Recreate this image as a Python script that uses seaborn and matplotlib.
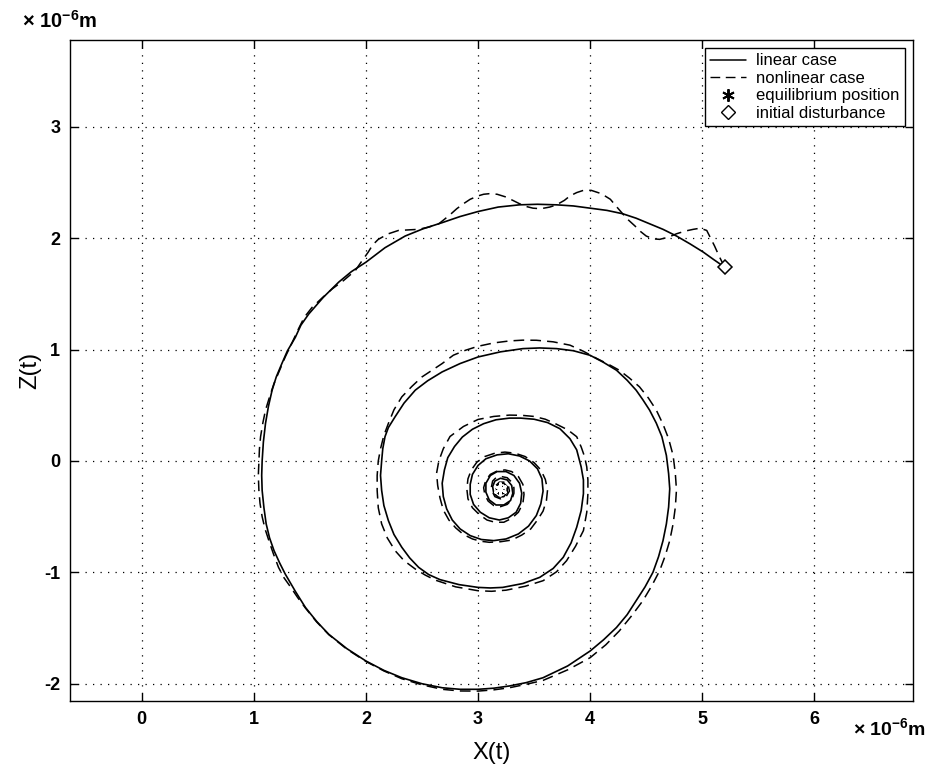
import matplotlib
matplotlib.use("Agg")
import matplotlib.pyplot as plt
from matplotlib.lines import Line2D
import seaborn as sns
import pandas as pd

# ---------------- data (units of 1e-6 m), (X, Z) points ----------------
lin_turn1 = [
    (5.20, 1.74), (5.10, 1.81), (5.01, 1.875), (4.89, 1.95), (4.77, 2.02), (4.65, 2.08),
    (4.53, 2.13), (4.41, 2.18), (4.29, 2.22), (4.15, 2.25), (4.00, 2.27), (3.85, 2.29),
    (3.70, 2.30), (3.53, 2.305), (3.37, 2.30), (3.18, 2.28), (3.00, 2.24), (2.84, 2.195),
    (2.68, 2.14), (2.51, 2.085), (2.35, 2.02), (2.17, 1.915), (2.00, 1.785), (1.87, 1.70),
    (1.757, 1.606), (1.62, 1.47), (1.49, 1.32), (1.42, 1.22), (1.37, 1.11), (1.30, 0.99),
    (1.25, 0.875), (1.20, 0.755), (1.163, 0.636), (1.13, 0.49), (1.104, 0.337), (1.085, 0.17),
    (1.074, 0.0), (1.07, -0.13), (1.074, -0.264), (1.09, -0.42), (1.11, -0.565), (1.14, -0.69),
    (1.18, -0.805), (1.23, -0.915), (1.28, -1.015), (1.37, -1.17), (1.46, -1.315), (1.56, -1.44),
    (1.668, -1.556), (1.83, -1.685), (2.00, -1.796), (2.16, -1.88), (2.32, -1.946), (2.50, -2.0),
    (2.68, -2.036), (2.84, -2.05), (3.00, -2.05), (3.14, -2.04), (3.28, -2.02), (3.43, -1.99),
    (3.58, -1.946), (3.80, -1.84), (4.00, -1.706), (4.12, -1.605), (4.235, -1.495), (4.33, -1.38),
    (4.41, -1.255), (4.49, -1.13), (4.56, -1.00), (4.61, -0.86), (4.65, -0.715), (4.68, -0.565),
    (4.70, -0.414),
]
lin_turn2 = [
    (4.71, -0.25), (4.70, -0.114), (4.68, 0.05), (4.64, 0.218), (4.59, 0.34), (4.53, 0.457),
    (4.47, 0.55), (4.41, 0.636), (4.33, 0.725), (4.235, 0.815), (4.12, 0.885), (4.00, 0.949),
    (3.85, 0.99), (3.70, 1.009), (3.55, 1.015), (3.40, 1.009), (3.20, 0.98), (3.00, 0.934),
    (2.84, 0.875), (2.68, 0.80), (2.55, 0.72), (2.44, 0.636), (2.34, 0.52), (2.26, 0.397),
    (2.20, 0.30), (2.17, 0.218), (2.15, 0.11), (2.14, 0.0), (2.13, -0.13), (2.14, -0.264),
    (2.16, -0.40), (2.20, -0.535), (2.25, -0.66), (2.32, -0.775), (2.39, -0.87), (2.47, -0.955),
    (2.56, -1.02), (2.66, -1.065), (2.83, -1.11), (3.00, -1.135), (3.11, -1.14), (3.22, -1.135),
    (3.40, -1.10), (3.55, -1.045), (3.67, -0.965), (3.76, -0.865), (3.83, -0.735), (3.88, -0.595),
    (3.92, -0.445), (3.94, -0.294), (3.94, -0.17), (3.92, -0.054),
]
lin_core = [
    (3.88, 0.10), (3.82, 0.20), (3.73, 0.29), (3.62, 0.345), (3.50, 0.375), (3.38, 0.385),
    (3.28, 0.385), (3.16, 0.37), (3.05, 0.335), (2.95, 0.285), (2.86, 0.215), (2.79, 0.13),
    (2.73, 0.03), (2.70, -0.08), (2.68, -0.20), (2.69, -0.32), (2.72, -0.43), (2.77, -0.53),
    (2.84, -0.61), (2.93, -0.67), (3.03, -0.705), (3.14, -0.715), (3.25, -0.70), (3.36, -0.655),
    (3.45, -0.585), (3.52, -0.49), (3.56, -0.385), (3.58, -0.27), (3.57, -0.16), (3.53, -0.07),
    (3.46, 0.0), (3.37, 0.045), (3.27, 0.065), (3.17, 0.055), (3.07, 0.02), (3.00, -0.04),
    (2.95, -0.12), (2.93, -0.21), (2.93, -0.30), (2.96, -0.39), (3.02, -0.46), (3.10, -0.51),
    (3.19, -0.53), (3.27, -0.51), (3.34, -0.46), (3.38, -0.38), (3.39, -0.29), (3.37, -0.20),
    (3.32, -0.13), (3.25, -0.095), (3.17, -0.095), (3.11, -0.13), (3.07, -0.20), (3.07, -0.28),
    (3.10, -0.35), (3.16, -0.395), (3.23, -0.395), (3.29, -0.355), (3.31, -0.29), (3.30, -0.22),
    (3.26, -0.17), (3.20, -0.155), (3.15, -0.18), (3.13, -0.23), (3.14, -0.29), (3.18, -0.325),
    (3.23, -0.32), (3.26, -0.28), (3.26, -0.23), (3.23, -0.20), (3.19, -0.20), (3.16, -0.23),
    (3.17, -0.28), (3.21, -0.29), (3.23, -0.26), (3.22, -0.23), (3.20, -0.235), (3.19, -0.25),
    (3.20, -0.26), (3.21, -0.25),
]

nl_turn1 = [
    (5.20, 1.74), (5.15, 1.84), (5.11, 1.93), (5.07, 2.01), (5.04, 2.07), (4.98, 2.09),
    (4.92, 2.08), (4.85, 2.065), (4.77, 2.04), (4.70, 2.01), (4.62, 1.99), (4.56, 1.995),
    (4.50, 2.02), (4.45, 2.06), (4.40, 2.11), (4.34, 2.165), (4.29, 2.22), (4.23, 2.29),
    (4.18, 2.35), (4.10, 2.40), (4.01, 2.43), (3.94, 2.43), (3.88, 2.41), (3.82, 2.38),
    (3.77, 2.34), (3.70, 2.30), (3.64, 2.28), (3.56, 2.265), (3.49, 2.27), (3.43, 2.285),
    (3.37, 2.31), (3.31, 2.34), (3.25, 2.37), (3.17, 2.395), (3.10, 2.40), (3.05, 2.395),
    (3.00, 2.38), (2.93, 2.35), (2.87, 2.31), (2.81, 2.265), (2.76, 2.22), (2.70, 2.17),
    (2.65, 2.13), (2.56, 2.10), (2.47, 2.08), (2.38, 2.075), (2.29, 2.07), (2.20, 2.04),
    (2.11, 1.99), (2.06, 1.94), (2.02, 1.875), (1.96, 1.79), (1.905, 1.71), (1.80, 1.62),
    (1.70, 1.546), (1.61, 1.465), (1.52, 1.38), (1.45, 1.29), (1.40, 1.19), (1.34, 1.06),
    (1.28, 0.934), (1.23, 0.815), (1.18, 0.696), (1.14, 0.575), (1.104, 0.457), (1.08, 0.34),
    (1.06, 0.218), (1.05, 0.11), (1.045, 0.0), (1.04, -0.13), (1.045, -0.264), (1.055, -0.38),
    (1.074, -0.50), (1.10, -0.61), (1.134, -0.715), (1.175, -0.835), (1.22, -0.955), (1.27, -1.05),
    (1.33, -1.135), (1.39, -1.225), (1.46, -1.32), (1.56, -1.445), (1.67, -1.56), (1.83, -1.69),
    (2.00, -1.80), (2.16, -1.885), (2.32, -1.955), (2.50, -2.01), (2.68, -2.05), (2.84, -2.065),
    (3.00, -2.066), (3.14, -2.055), (3.28, -2.036), (3.43, -2.005), (3.58, -1.97), (3.80, -1.875),
    (4.00, -1.766), (4.14, -1.65), (4.26, -1.526), (4.37, -1.39), (4.47, -1.255), (4.55, -1.12),
    (4.62, -0.985), (4.67, -0.85), (4.71, -0.715), (4.74, -0.565), (4.76, -0.414),
]
nl_turn2 = [
    (4.77, -0.26), (4.76, -0.114), (4.74, 0.05), (4.70, 0.20), (4.65, 0.33), (4.59, 0.457),
    (4.52, 0.565), (4.44, 0.666), (4.35, 0.745), (4.26, 0.815), (4.16, 0.87), (4.06, 0.92),
    (3.94, 0.985), (3.82, 1.04), (3.67, 1.07), (3.52, 1.084), (3.40, 1.085), (3.28, 1.078),
    (3.14, 1.06), (3.00, 1.03), (2.89, 0.995), (2.78, 0.95), (2.68, 0.875), (2.59, 0.815),
    (2.50, 0.755), (2.41, 0.67), (2.32, 0.576), (2.25, 0.46), (2.20, 0.337), (2.16, 0.23),
    (2.13, 0.11), (2.11, 0.0), (2.10, -0.13), (2.10, -0.264), (2.11, -0.42), (2.14, -0.565),
    (2.19, -0.69), (2.26, -0.805), (2.34, -0.895), (2.44, -0.97), (2.53, -1.025), (2.62, -1.07),
    (2.80, -1.13), (3.00, -1.165), (3.12, -1.17), (3.25, -1.16), (3.42, -1.125), (3.58, -1.075),
    (3.70, -0.995), (3.79, -0.895), (3.87, -0.765), (3.94, -0.625), (3.97, -0.46), (3.98, -0.294),
    (3.98, -0.17), (3.97, -0.054),
]
nl_core = [
    (3.95, 0.04), (3.92, 0.126), (3.88, 0.218), (3.80, 0.28), (3.70, 0.33), (3.60, 0.375),
    (3.50, 0.40), (3.39, 0.41), (3.28, 0.412), (3.14, 0.40), (3.00, 0.373), (2.87, 0.31),
    (2.75, 0.22), (2.69, 0.11), (2.65, 0.0), (2.63, -0.11), (2.64, -0.22), (2.66, -0.33),
    (2.69, -0.44), (2.74, -0.53), (2.80, -0.60), (2.87, -0.66), (2.95, -0.70), (3.02, -0.72),
    (3.10, -0.73), (3.20, -0.725), (3.30, -0.71), (3.39, -0.665), (3.47, -0.61), (3.53, -0.53),
    (3.58, -0.45), (3.61, -0.355), (3.62, -0.26), (3.60, -0.165), (3.56, -0.08), (3.50, -0.015),
    (3.42, 0.04), (3.33, 0.07), (3.24, 0.08), (3.15, 0.07), (3.06, 0.04), (2.99, -0.01),
    (2.94, -0.08), (2.91, -0.16), (2.90, -0.25), (2.91, -0.34), (2.95, -0.42), (3.01, -0.48),
    (3.08, -0.53), (3.15, -0.55), (3.23, -0.55), (3.30, -0.515), (3.36, -0.46), (3.40, -0.38),
    (3.41, -0.30), (3.40, -0.21), (3.36, -0.14), (3.30, -0.095), (3.24, -0.08), (3.17, -0.09),
    (3.11, -0.12), (3.07, -0.17), (3.05, -0.24), (3.06, -0.30), (3.09, -0.36), (3.14, -0.40),
    (3.20, -0.41), (3.26, -0.39), (3.30, -0.35), (3.32, -0.29), (3.32, -0.24), (3.30, -0.19),
    (3.26, -0.15), (3.21, -0.14), (3.16, -0.15), (3.13, -0.18), (3.12, -0.23), (3.13, -0.28),
    (3.15, -0.32), (3.20, -0.34), (3.25, -0.32), (3.28, -0.27), (3.27, -0.22), (3.24, -0.19),
    (3.19, -0.19), (3.16, -0.22), (3.16, -0.27), (3.19, -0.30), (3.23, -0.29), (3.24, -0.26),
    (3.22, -0.23), (3.20, -0.235), (3.19, -0.25), (3.20, -0.26), (3.21, -0.25),
]

eq_x = [3.20]
eq_z = [-0.25]
init_x = [5.20]
init_z = [1.74]

x_ticks = [0, 1, 2, 3, 4, 5, 6]
y_ticks = [-2, -1, 0, 1, 2, 3]
legend_labels = ["linear case", "nonlinear case", "equilibrium position", "initial disturbance"]
unit_label = r"$\times$ 10$^{-6}$m"

# ---------------- style ----------------
sns.set_theme(style="ticks")
plt.rcParams["font.family"] = ["Liberation Sans", "DejaVu Sans"]
plt.rcParams["text.color"] = "black"
plt.rcParams["axes.labelcolor"] = "black"
plt.rcParams["xtick.color"] = "black"
plt.rcParams["ytick.color"] = "black"
plt.rcParams["mathtext.fontset"] = "custom"
plt.rcParams["mathtext.rm"] = "Liberation Sans"
plt.rcParams["mathtext.bf"] = "Liberation Sans:bold"
plt.rcParams["mathtext.default"] = "bf"

fig = plt.figure(figsize=(9.3, 7.74), dpi=100)
ax = fig.add_axes([70 / 930, 1 - 701 / 774, (913 - 70) / 930, (701 - 40) / 774])

df_lin = pd.DataFrame(lin_turn1 + lin_turn2 + lin_core, columns=["x", "z"])
df_nl = pd.DataFrame(nl_turn1 + nl_turn2 + nl_core, columns=["x", "z"])

sns.lineplot(data=df_lin, x="x", y="z", sort=False, estimator=None,
             color="black", linewidth=1.2, ax=ax)
sns.lineplot(data=df_nl, x="x", y="z", sort=False, estimator=None,
             color="black", linewidth=1.1, linestyle=(0, (7, 4)), ax=ax)
sns.lineplot(x=eq_x, y=eq_z, marker=(6, 2, 0), markersize=10, markeredgewidth=1.6,
             color="black", linestyle="none", ax=ax)
sns.lineplot(x=init_x, y=init_z, marker="D", markersize=7.5, markerfacecolor="white",
             markeredgecolor="black", markeredgewidth=1.1, color="black",
             linestyle="none", ax=ax)

ax.set_xlim(-0.64, 6.88)
ax.set_ylim(-2.155, 3.78)
ax.set_xticks(x_ticks)
ax.set_yticks(y_ticks)
ax.set_xticklabels([str(t) for t in x_ticks])
ax.set_yticklabels([str(t) for t in y_ticks])

ax.grid(True, color="black", linestyle=(0, (1, 5)), linewidth=0.9)
ax.tick_params(direction="in", length=6, width=1, top=True, right=True,
               labelsize=13, pad=7, colors="black")
for lab in ax.get_xticklabels() + ax.get_yticklabels():
    lab.set_fontweight("bold")
for s in ax.spines.values():
    s.set_color("black")
    s.set_linewidth(1.0)
    s.set_visible(True)

ax.set_xlabel("X(t)", fontsize=17, labelpad=10, color="black")
ax.set_ylabel("Z(t)", fontsize=17, labelpad=2, color="black")

fig.text(22 / 930, 1 - 21 / 774, unit_label, fontsize=14.5, fontweight="bold",
         ha="left", va="center", color="black")
fig.text(926 / 930, 1 - 728 / 774, unit_label, fontsize=14, fontweight="bold",
         ha="right", va="center", color="black")

handles = [
    Line2D([], [], color="black", linewidth=1.1),
    Line2D([], [], color="black", linewidth=1.0, linestyle=(0, (7, 4))),
    Line2D([], [], color="black", marker=(6, 2, 0), markersize=9, markeredgewidth=1.4,
           linestyle="none"),
    Line2D([], [], color="black", marker="D", markersize=7, markerfacecolor="white",
           linestyle="none"),
]
leg = ax.legend(handles, legend_labels, loc="upper right", fontsize=12, frameon=True,
                fancybox=False, edgecolor="black", framealpha=1, borderpad=0.3,
                labelspacing=0.15, handlelength=2.2, handletextpad=0.6,
                borderaxespad=0.5)
leg.get_frame().set_linewidth(1.0)
for t in leg.get_texts():
    t.set_color("black")

fig.savefig("out.png", dpi=100)
